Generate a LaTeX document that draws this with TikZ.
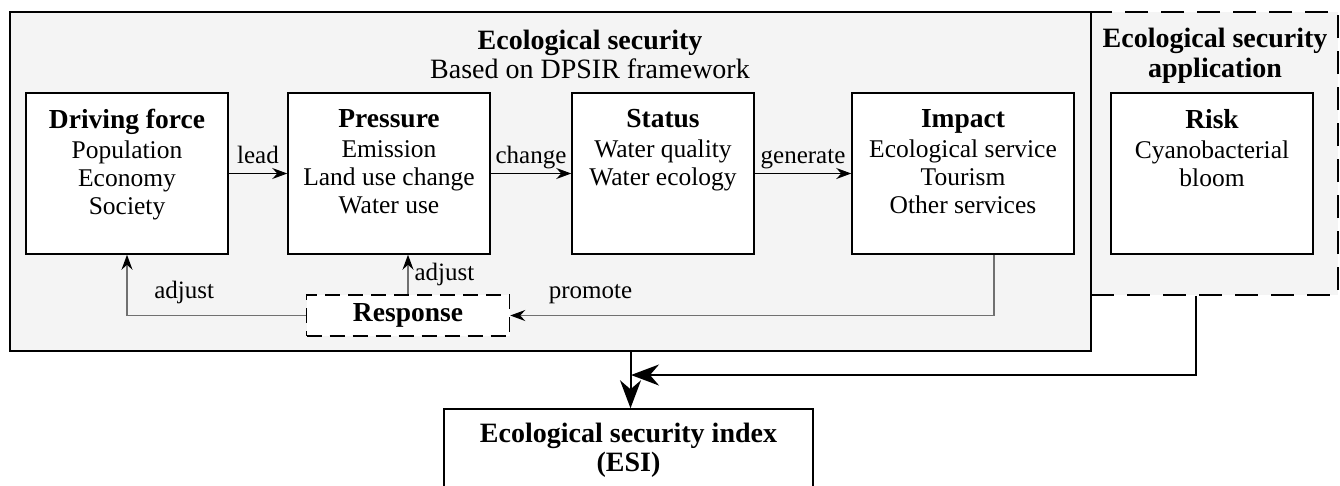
\documentclass[tikz,border=0pt]{standalone}
\usepackage{fontspec}
\setmainfont{Liberation Serif}
\usetikzlibrary{arrows.meta,calc}
\definecolor{panel}{HTML}{F4F4F4}
\definecolor{fbgray}{HTML}{707070}
\tikzset{
  box/.style={draw=black, line width=1.5pt, fill=white, inner sep=0pt, minimum height=161pt},
  txt/.style={anchor=north, inner sep=0pt, align=center, font=\fontsize{25.5}{28}\selectfont},
  lbl/.style={inner sep=0pt, text depth=0pt, font=\fontsize{25}{28}\selectfont},
  fwd/.style={draw=black, line width=1pt, -{Stealth[length=15pt,width=11pt,inset=5pt]}},
  fbk/.style={draw=fbgray, line width=1.2pt, -{Stealth[length=15pt,width=11pt,inset=5pt,color=black]}},
  big/.style={draw=black, line width=2pt, -{Stealth[length=28pt,width=21pt,inset=9pt]}},
}
\newcommand{\ttlb}[1]{{\bfseries\fontsize{27.5}{28}\selectfont #1}}
\begin{document}
\begin{tikzpicture}[x=1pt,y=-1pt]
\useasboundingbox (0,0) rectangle (1340,485);
% panels
\node[draw=black, dash pattern=on 23pt off 13pt, line width=1.5pt, fill=panel,
      minimum width=247pt, minimum height=283pt, inner sep=0pt] (app) at (1214.5,153.5) {};
\node[draw=black, line width=1.5pt, fill=panel,
      minimum width=1081pt, minimum height=339pt, inner sep=0pt] (eco) at (550.5,181.5) {};
% titles
\node[txt, font=\fontsize{28}{29}\selectfont] (ttl) at (590,30)
  {{\bfseries Ecological security}\\Based on DPSIR framework};
\node[txt, font=\bfseries\fontsize{28}{30}\selectfont] (appt) at (1215,28)
  {Ecological security\\application};
% boxes
\node[box, minimum width=202pt] (df) at (127,173.5) {};
\node[box, minimum width=202pt] (pr) at (389,173.5) {};
\node[box, minimum width=182pt] (st) at (663,173.5) {};
\node[box, minimum width=222pt] (im) at (963,173.5) {};
\node[box, minimum width=202pt] (rk) at (1212,173.5) {};
\node[txt] (dft) at ([yshift=-17pt]df.north) {\ttlb{Driving force}\\[2pt]Population\\Economy\\Society};
\node[txt] (prt) at ([yshift=-17pt]pr.north) {\ttlb{Pressure}\\[2pt]Emission\\Land use change\\Water use};
\node[txt] (stt) at ([yshift=-17pt]st.north) {\ttlb{Status}\\[2pt]Water quality\\Water ecology};
\node[txt] (imt) at ([yshift=-17pt]im.north) {\ttlb{Impact}\\[2pt]Ecological service\\Tourism\\Other services};
\node[txt] (rkt) at ([yshift=-17pt]rk.north) {\ttlb{Risk}\\[2pt]Cyanobacterial\\bloom};
% response
\node[draw=black, dash pattern=on 15pt off 8pt, line width=1.5pt, fill=white,
      minimum width=203pt, minimum height=41pt, inner sep=0pt,
      font=\bfseries\fontsize{27.5}{28}\selectfont] (resp) at (408,315.5) {Response};
% ESI
\node[box, minimum width=369pt, minimum height=104pt] (esi) at (628.5,461) {};
\node[txt, font=\bfseries\fontsize{28}{29}\selectfont] (esit) at ([yshift=-15pt]esi.north)
  {Ecological security index\\(ESI)};
% forward arrows
\draw[fwd] (df.east) -- node[lbl, above=10pt] {lead} (pr.west);
\draw[fwd] (pr.east) -- node[lbl, above=10pt] {change} (st.west);
\draw[fwd] (st.east) -- node[lbl, above=10pt] {generate} (im.west);
% feedback
\draw[fbk] (resp.north) -- node[lbl, pos=0.5, anchor=base west, xshift=6pt, yshift=-6pt] {adjust} (resp.north |- pr.south);
\draw[fbk] (resp.west) -| node[lbl, pos=0.34, above=16pt] {adjust} (df.south);
\draw[fbk] ($(im.south)+(31,0)$) |- node[lbl, pos=0.917, above=16pt] {promote} (resp.east);
% to ESI
\draw[big] ($(eco.south -| esi.north)+(2,0)$) -- ($(esi.north)+(2,0)$);
\coordinate (jn) at (631,375);
\draw[big] ($(rk.south |- app.south)+(-16,0)$) |- (jn);
\end{tikzpicture}
\end{document}
